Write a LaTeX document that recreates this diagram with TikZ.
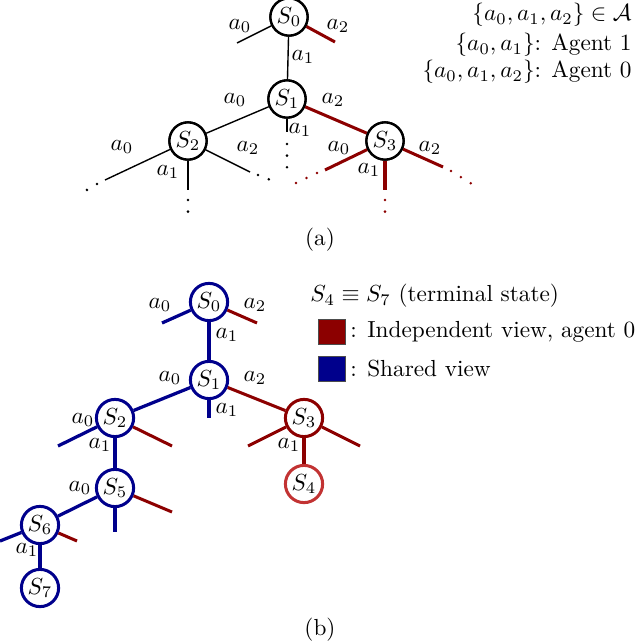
\documentclass[tikz,border=0pt]{standalone}
\usepackage{amsmath,amssymb}
\begin{document}
\begin{tikzpicture}[x=0.43pt,y=-0.43pt,
  st/.style={circle,draw,line width=1pt,minimum size=16pt,inner sep=0pt,fill=white},
  bl/.style={line width=0.6pt},
  rd/.style={line width=1.3pt,draw=red!55!black},
  dt/.style={line width=1.2pt,line cap=round,dash pattern=on 0pt off 5pt},
  lb/.style={inner sep=0pt},
  bs/.style={circle,draw=blue!55!black,line width=1.3pt,minimum size=16pt,inner sep=0pt,fill=white},
  rs/.style={circle,draw=red!55!black,line width=1.3pt,minimum size=16pt,inner sep=0pt,fill=white},
  be/.style={line width=1.4pt,draw=blue!55!black},
  re/.style={line width=1.3pt,draw=red!55!black}]
\useasboundingbox (0,0) rectangle (640,642);
% ---------- (a)
\coordinate (a0l) at (237,43); \coordinate (a0r) at (335,42);
\coordinate (a1d) at (287,132); \coordinate (a1e) at (287,170);
\coordinate (a2l) at (105,180); \coordinate (a2le) at (80,194);
\coordinate (a2d) at (188,190); \coordinate (a2de) at (188,217);
\coordinate (a2r) at (250,172); \coordinate (a2re) at (278,183);
\coordinate (a3l) at (325,170); \coordinate (a3le) at (296,183);
\coordinate (a3d) at (385,190); \coordinate (a3de) at (385,217);
\coordinate (a3r) at (443,167); \coordinate (a3re) at (472,184);
\node[st] (A0) at (289,17) {$S_0$};
\node[st] (A1) at (287,99) {$S_1$};
\node[st] (A2) at (188,141) {$S_2$};
\node[st] (A3) at (385,141) {$S_3$};
\draw[bl] (A0) -- (a0l); \draw[rd] (A0) -- (a0r); \draw[bl] (A0) -- (A1);
\draw[bl] (A1) -- (A2); \draw[rd] (A1) -- (A3); \draw[bl] (A1) -- (a1d); \draw[dt] (a1d)++(0,12) -- (a1e);
\draw[bl] (A2) -- (a2l); \draw[dt] (a2l) ++(-8,4) -- (a2le);
\draw[bl] (A2) -- (a2d); \draw[dt] (a2d)++(0,10) -- (a2de);
\draw[bl] (A2) -- (a2r); \draw[dt] (a2r)++(8,3) -- (a2re);
\draw[rd] (A3) -- (a3l); \draw[dt,red!55!black] (a3l)++(-8,3) -- (a3le);
\draw[rd] (A3) -- (a3d); \draw[dt,red!55!black] (a3d)++(0,10) -- (a3de);
\draw[rd] (A3) -- (a3r); \draw[dt,red!55!black] (a3r)++(8,4) -- (a3re);
\node[st] at (A0) {$S_0$}; \node[st] at (A1) {$S_1$}; \node[st] at (A2) {$S_2$}; \node[st] at (A3) {$S_3$};
\node[lb] (la1) at (240,26) {$a_0$}; \node[lb] (la2) at (338,26) {$a_2$}; \node[lb] (la3) at (303,57) {$a_1$};
\node[lb] (la4) at (235,100) {$a_0$}; \node[lb] (la5) at (333,100) {$a_2$}; \node[lb] (la6) at (300,130) {$a_1$};
\node[lb] (la7) at (122,147) {$a_0$}; \node[lb] (la8) at (168,172) {$a_1$}; \node[lb] (la9) at (248,148) {$a_2$};
\node[lb] (la10) at (339,148) {$a_0$}; \node[lb] (la11) at (369,170) {$a_1$}; \node[lb] (la12) at (430,148) {$a_2$};
\node[lb,anchor=east] (t1) at (632,15) {$\{a_0,a_1,a_2\}\in\mathcal{A}$};
\node[lb,anchor=east] (t2) at (632,45) {$\{a_0,a_1\}$: Agent 1};
\node[lb,anchor=east] (t3) at (632,72) {$\{a_0,a_1,a_2\}$: Agent 0};
\node (capa) at (320,240) {(a)};
% ---------- (b)
\coordinate (b0l) at (162,323); \coordinate (b0r) at (257,323);
\coordinate (b1d) at (209,418);
\coordinate (b2l) at (58,446); \coordinate (b2r) at (172,446);
\coordinate (b5d) at (115,532); \coordinate (b5r) at (172,512);
\coordinate (b6l) at (0,541); \coordinate (b6r) at (77,541);
\coordinate (b3l) at (248,446); \coordinate (b3r) at (360,446);
\node[bs] (B0) at (209,302) {$S_0$};
\node[bs] (B1) at (209,380) {$S_1$};
\node[bs] (B2) at (115,418) {$S_2$};
\node[rs] (B3) at (304,418) {$S_3$};
\node[bs] (B5) at (115,488) {$S_5$};
\node[bs] (B6) at (40,525) {$S_6$};
\node[bs] (B7) at (40,588) {$S_7$};
\node[circle,draw=red!70!black!80,line width=1.3pt,minimum size=16pt,inner sep=0pt,fill=white] (B4) at (304,484) {$S_4$};
\draw[be] (B0) -- (b0l); \draw[re] (B0) -- (b0r); \draw[be] (B0) -- (B1);
\draw[be] (B1) -- (B2); \draw[re] (B1) -- (B3); \draw[be] (B1) -- (b1d);
\draw[be] (B2) -- (b2l); \draw[re] (B2) -- (b2r); \draw[be] (B2) -- (B5);
\draw[be] (B5) -- (B6); \draw[be] (B5) -- (b5d); \draw[re] (B5) -- (b5r);
\draw[be] (B6) -- (b6l); \draw[re] (B6) -- (b6r); \draw[be] (B6) -- (B7);
\draw[re] (B3) -- (b3l); \draw[re] (B3) -- (b3r); \draw[re] (B3) -- (B4);
\node[lb] (lb1) at (160,305) {$a_0$}; \node[lb] (lb2) at (255,305) {$a_2$}; \node[lb] (lb3) at (227,335) {$a_1$};
\node[lb] (lb4) at (170,378) {$a_0$}; \node[lb] (lb5) at (255,378) {$a_2$}; \node[lb] (lb6) at (227,410) {$a_1$};
\node[lb] (lb7) at (83,420) {$a_0$}; \node[lb] (lb8) at (100,445) {$a_1$};
\node[lb] (lb9) at (80,488) {$a_0$}; \node[lb] (lb10) at (27,550) {$a_1$};
\node[lb] (lb11) at (289,445) {$a_1$};
\node[lb,anchor=west] (t4) at (310,296) {$S_4\equiv S_7$ (terminal state)};
\node[draw=black!70,fill=red!55!black,minimum width=12pt,minimum height=11pt,inner sep=0pt] (k1) at (332,332) {};
\node[draw=black!70,fill=blue!55!black,minimum width=12pt,minimum height=11pt,inner sep=0pt] (k2) at (332,369) {};
\node[lb,anchor=west] (t5) at (350,332) {: Independent view, agent 0};
\node[lb,anchor=west] (t6) at (350,369) {: Shared view};
\node (capb) at (320,630) {(b)};
\end{tikzpicture}
\end{document}
